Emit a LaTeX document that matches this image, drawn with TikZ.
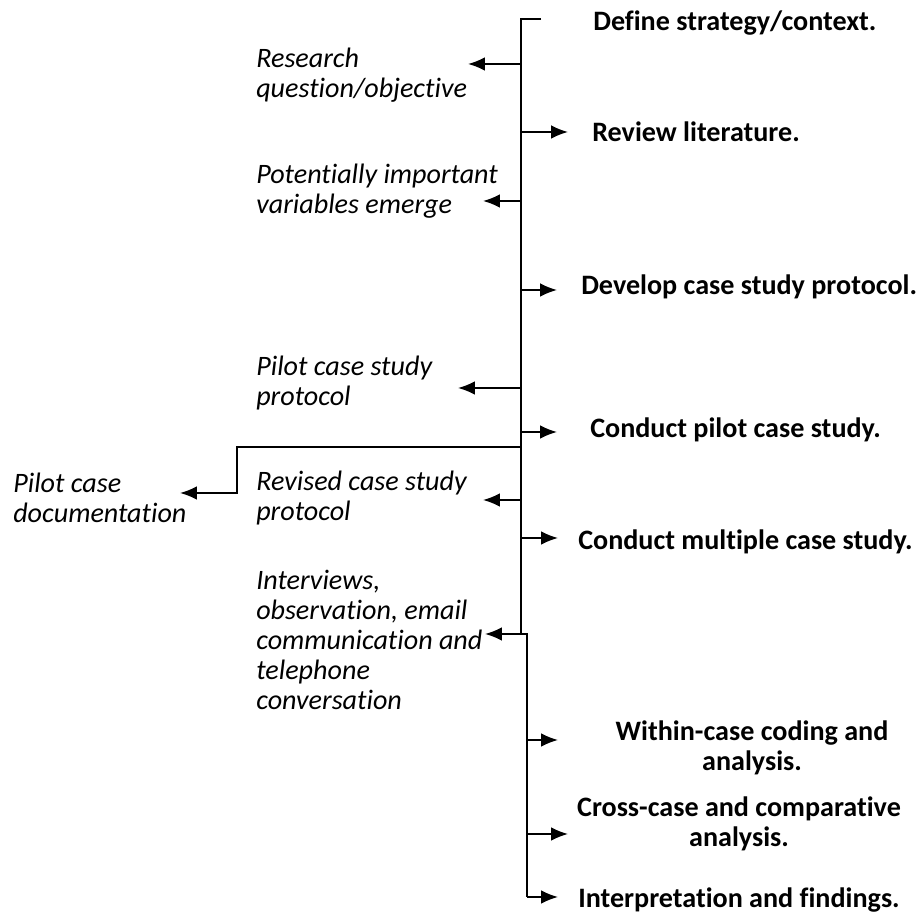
\documentclass[tikz,border=0pt]{standalone}
\usepackage{fontspec}
\setmainfont{Carlito}[Ligatures={NoCommon,NoRequired,NoContextual}]
\usetikzlibrary{arrows.meta}

\tikzset{
  flow/.style={line width=1.3pt},
  arr/.style={line width=1.3pt, -{Latex[length=0.42cm,width=0.34cm]}},
  stage/.style={font=\fontsize{20}{21.3}\selectfont\bfseries, anchor=west, inner sep=0pt},
  item/.style={font=\fontsize{20}{21.3}\selectfont\itshape, anchor=west, align=left, inner sep=0pt}
}

\begin{document}
\begin{tikzpicture}

\useasboundingbox (0,0) rectangle (23,22.95);

%spine
\coordinate (t)   at (13.025,22.475);
\coordinate (te)  at (13.525,22.475);
\coordinate (q)   at (13.025,21.35);
\coordinate (qa)  at (11.7,21.35);
\coordinate (l)   at (13.025,19.65);
\coordinate (la)  at (14.2,19.65);
\coordinate (v)   at (13.025,17.925);
\coordinate (va)  at (12.075,17.925);
\coordinate (d)   at (13.025,15.7);
\coordinate (da)  at (13.925,15.7);
\coordinate (pp)  at (13.025,13.25);
\coordinate (ppa) at (11.45,13.25);
\coordinate (c)   at (13.025,12.15);
\coordinate (ca)  at (13.925,12.15);
%
\coordinate (b)   at (13.025,11.775);
\coordinate (bk)  at (5.925,11.775);
\coordinate (bd)  at (5.925,10.625);
\coordinate (ba)  at (4.5,10.625);
%
\coordinate (r)   at (13.025,10.45);
\coordinate (ra)  at (12.075,10.45);
\coordinate (m)   at (13.025,9.5);
\coordinate (ma)  at (13.95,9.5);
\coordinate (j)   at (13.025,7.1);
\coordinate (j2)  at (13.175,7.1);
\coordinate (ja)  at (12.125,7.1);
\coordinate (w)   at (13.175,4.45);
\coordinate (wa)  at (13.95,4.45);
\coordinate (x)   at (13.175,2.1);
\coordinate (xa)  at (14.2,2.1);
\coordinate (f)   at (13.175,0.525);
\coordinate (fa)  at (13.95,0.525);

%main line
\draw [flow] (te)--(t)--(j)--(j2)--(f);

%arrows
\draw [arr] (q)--(qa);      %research
\draw [arr] (l)--(la);      %literature
\draw [arr] (v)--(va);      %variables
\draw [arr] (d)--(da);      %protocol
\draw [arr] (pp)--(ppa);    %pilot protocol
\draw [arr] (c)--(ca);      %pilot study
\draw [arr] (b)--(bk)--(bd)--(ba); %documentation
\draw [arr] (r)--(ra);      %revised
\draw [arr] (m)--(ma);      %multiple
\draw [arr] (j2)--(ja);     %interviews
\draw [arr] (w)--(wa);      %within
\draw [arr] (x)--(xa);      %cross
\draw [arr] (f)--(fa);      %findings

%labels right
\node [stage] (def)  at (14.825,22.375) {Define strategy/context.};
\node [stage] (rev)  at (14.8,19.65)    {Review literature.};
\node [stage] (dev)  at (14.525,15.775) {Develop case study protocol.};
\node [stage] (cpil) at (14.75,12.2)    {Conduct pilot case study.};
\node [stage] (cmul) at (14.45,9.4)     {Conduct multiple case study.};
\node [stage, anchor=center, align=center] (wic) at (18.8,4.25) {Within-case coding and\\analysis.};
\node [stage, anchor=center, align=center] (crc) at (18.475,2.35) {Cross-case and comparative\\analysis.};
\node [stage] (itp)  at (14.45,0.45)    {Interpretation and findings.};

%labels left
\node [item] (res)  at (6.4,21.075) {Research\\question/objective};
\node [item] (pot)  at (6.4,18.16)  {Potentially important\\variables emerge};
\node [item] (ppro) at (6.4,13.375) {Pilot case study\\protocol};
\node [item] (revp) at (6.4,10.5)   {Revised case study\\protocol};
\node [item] (intv) at (6.4,6.95)   {Interviews,\\observation, email\\communication and\\telephone\\conversation};
\node [item] (pdoc) at (0.325,10.5) {Pilot case\\documentation};

\end{tikzpicture}
\end{document}
